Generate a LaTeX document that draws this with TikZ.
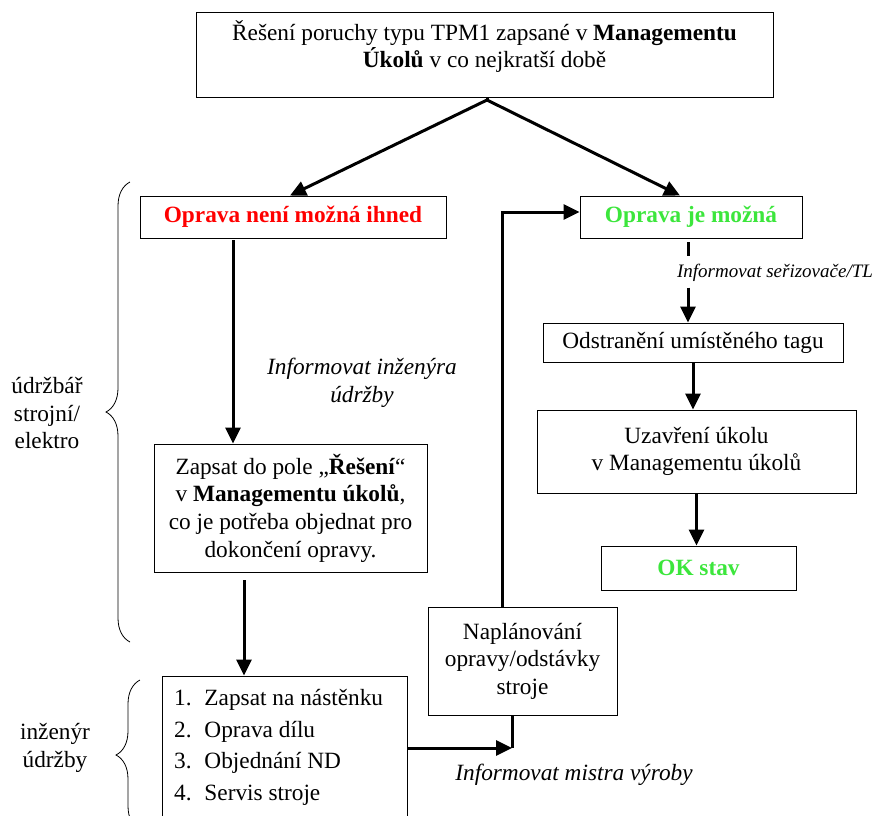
\documentclass[tikz,border=0pt]{standalone}
\usepackage{fontspec}
\setmainfont{Liberation Serif}
\usetikzlibrary{arrows.meta,decorations.pathreplacing,calc}
\definecolor{okgreen}{RGB}{60,230,60}
\begin{document}
\begin{tikzpicture}[x=1pt,y=-1pt,
  box/.style={draw, line width=0.9pt, inner sep=0pt, align=center, font=\fontsize{23.3}{27.6}\selectfont},
  lbl/.style={inner sep=0pt, align=center, font=\fontsize{23.3}{27.6}\selectfont},
  arr/.style={-{Triangle[length=16pt,width=15pt]}, line width=3pt},
  ln/.style={line width=3pt},
  brc/.style={decorate, decoration={brace, amplitude=24pt}, line width=0.8pt}]
\clip (0,0) rectangle (874,815);
\fill[white] (0,0) rectangle (874,815);
% top
\node[box, minimum width=577pt, minimum height=85pt] (top) at (484.5,54.5) {};
\node[lbl] (toptxt) at (484.5,46.5) {Řešení poruchy typu TPM1 zapsané v \textbf{Managementu}\\\textbf{Úkolů} v co nejkratší době};
\coordinate (apex) at (487,100);
% level 2
\node[box, minimum width=306pt, minimum height=42pt, text=red, font=\fontsize{23.3}{27.6}\selectfont\bfseries] (red) at (293,217) {Oprava není možná ihned};
\node[box, minimum width=222pt, minimum height=42pt, text=okgreen, font=\fontsize{23.3}{27.6}\selectfont\bfseries] (green) at (691,217) {Oprava je možná};
% left column
\node[box, minimum width=273pt, minimum height=128pt] (zap) at (290.5,508) {Zapsat do pole „\textbf{Řešení}“\\v \textbf{Managementu úkolů},\\co je potřeba objednat pro\\dokončení opravy.};
\node[lbl, font=\fontsize{23.3}{27.6}\selectfont\itshape] (infinz) at (362,383) {Informovat inženýra\\údržby};
\node[box, minimum width=245pt, minimum height=150pt] (list) at (284.5,751) {};
\node[lbl, anchor=north west, align=left, font=\fontsize{23.3}{31.7}\selectfont] (listtxt) at (174,689) {1.\hspace{0.55em}Zapsat na nástěnku\\2.\hspace{0.55em}Oprava dílu\\3.\hspace{0.55em}Objednání ND\\4.\hspace{0.55em}Servis stroje};
% middle
\node[box, minimum width=189pt, minimum height=108pt] (plan) at (522.5,661) {Naplánování\\opravy/odstávky\\stroje};
\node[lbl, font=\fontsize{23.3}{27.6}\selectfont\itshape] (infmis) at (574,775) {Informovat mistra výroby};
\coordinate (join) at (512,748);
% right column
\node[lbl, font=\fontsize{19}{24}\selectfont\itshape] (infser) at (775,273) {Informovat seřizovače/TL};
\node[box, minimum width=300pt, minimum height=39pt] (odst) at (693,342.5) {Odstranění umístěného tagu};
\node[box, minimum width=319pt, minimum height=83pt] (uzav) at (696.5,451.5) {Uzavření úkolu\\v Managementu úkolů};
\node[box, minimum width=195pt, minimum height=44pt, text=okgreen, font=\fontsize{23.3}{27.6}\selectfont\bfseries] (ok) at (698.5,568) {OK stav};
% braces
\node[lbl] (udrz) at (47,413) {údržbář\\strojní/\\elektro};
\node[lbl] (inz) at (55,748) {inženýr\\údržby};
\draw[brc] (130,642) -- (130,182);
\draw[brc] (140,830) -- (140,680);
% connectors
\draw[ln] (top.south -| apex) -- (apex);
\draw[arr] (apex) -- ([xshift=-3pt]red.north);
\draw[arr] (apex) -- ([xshift=-11pt]green.north);
\draw[arr] ([xshift=-60pt,yshift=-2pt]red.south) -- ([xshift=-60pt]red.south |- zap.north);
\draw[arr] ([xshift=-46.5pt,yshift=-8pt]zap.south) -- ([xshift=-46.5pt]zap.south |- list.north);
\draw[arr] (list.east |- join) -- (join);
\draw[ln] ([xshift=-10.5pt]plan.south) -- ([xshift=-10.5pt]plan.south |- join);
\draw[arr] ([xshift=-20.5pt]plan.north) |- ([yshift=5pt]green.west);
\draw[ln] ([xshift=-3pt,yshift=-4pt]green.south) -- ++(0,14);
\draw[arr] ([xshift=-5pt,yshift=35pt]odst.north) -- ([xshift=-5pt]odst.north);
\draw[arr] (odst.south) -- (odst.south |- uzav.north);
\draw[arr] (uzav.south) -- (uzav.south |- ok.north);
\end{tikzpicture}
\end{document}
